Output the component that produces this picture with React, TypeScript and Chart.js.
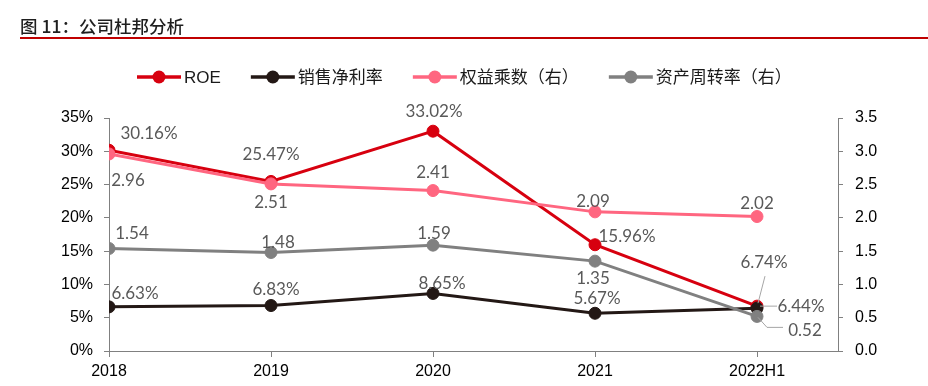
import React, { useEffect, useRef } from "react";
import { Chart, registerables } from "chart.js";

Chart.register(...registerables);

const categories = ["2018", "2019", "2020", "2021", "2022H1"];
const roe = [30.16, 25.47, 33.02, 15.96, 6.74];
const netMargin = [6.63, 6.83, 8.65, 5.67, 6.44];
const equityMultiplier = [2.96, 2.51, 2.41, 2.09, 2.02];
const assetTurnover = [1.54, 1.48, 1.59, 1.35, 0.52];
const seriesNames = ["ROE", "销售净利率", "权益乘数（右）", "资产周转率（右）"];
const titleText = "图 11：公司杜邦分析";

const COLORS = ["#d7000f", "#231815", "#ff6680", "#808080"];

// label placement (pixel offsets from the point), style only
const LABEL_OFFSETS: [number, number][][] = [
  [[40, -17], [0, -27], [1, -20], [32, -8], [7, -44]],
  [[26, -13], [5, -16], [9, -10], [2, -15], [44, -2]],
  [[19, 27], [0, 19], [0, -18], [-2, -10], [0, -13]],
  [[23, -15], [7, -10], [1, -12], [-2, 17], [48, 14]],
];
// leader lines (relative to point) for crowded labels: [datasetIndex, pointIndex, path]
const LEADERS: [number, number, [number, number][]][] = [
  [0, 4, [[8, -30], [1, -3]]],
  [1, 4, [[3, -2], [20, -2]]],
  [3, 4, [[1, 1], [10, 11], [26, 11]]],
];

const TICK_FONT = { family: "'Liberation Sans', Arial, sans-serif", size: 16 };

const toPoints = (arr: number[]) => arr.map((v, i) => ({ x: i, y: v }));

const titlePlugin = {
  id: "titlePlugin",
  afterDraw(chart: any) {
    const ctx = chart.ctx;
    ctx.save();
    ctx.fillStyle = "#1f1f1f";
    ctx.font = "500 17.5px 'Noto Sans CJK SC', sans-serif";
    ctx.textAlign = "left";
    ctx.textBaseline = "alphabetic";
    ctx.fillText(titleText, 20, 33);
    ctx.strokeStyle = "#c00000";
    ctx.lineWidth = 2;
    ctx.beginPath();
    ctx.moveTo(20, 38);
    ctx.lineTo(928, 38);
    ctx.stroke();
    ctx.restore();
  },
};

const legendPlugin = {
  id: "customLegend",
  afterDraw(chart: any) {
    const ctx = chart.ctx;
    ctx.save();
    ctx.font = "17px 'Liberation Sans', 'Noto Sans CJK SC', sans-serif";
    ctx.textBaseline = "middle";
    ctx.textAlign = "left";
    let x = 137;
    const y = 77;
    chart.data.datasets.forEach((ds: any, i: number) => {
      const color = COLORS[i];
      ctx.strokeStyle = color;
      ctx.lineWidth = 3.5;
      ctx.beginPath();
      ctx.moveTo(x, y);
      ctx.lineTo(x + 44, y);
      ctx.stroke();
      ctx.fillStyle = color;
      ctx.beginPath();
      ctx.arc(x + 22, y, 6.5, 0, Math.PI * 2);
      ctx.fill();
      ctx.fillStyle = "#1a1a1a";
      ctx.fillText(ds.label, x + 47, y + 1);
      const w = ctx.measureText(ds.label).width;
      x = x + 47 + w + 30;
    });
    ctx.restore();
  },
};

const dataLabelPlugin = {
  id: "dataLabels",
  afterDatasetsDraw(chart: any) {
    const ctx = chart.ctx;
    ctx.save();
    ctx.strokeStyle = "#a6a6a6";
    ctx.lineWidth = 1;
    LEADERS.forEach(([di, pi, path]) => {
      const el = chart.getDatasetMeta(di).data[pi];
      ctx.beginPath();
      path.forEach(([dx, dy], k) => {
        if (k === 0) ctx.moveTo(el.x + dx, el.y + dy);
        else ctx.lineTo(el.x + dx, el.y + dy);
      });
      ctx.stroke();
    });
    ctx.font = "17px Lato, 'Open Sans', sans-serif";
    ctx.fillStyle = "#595959";
    ctx.textAlign = "center";
    ctx.textBaseline = "middle";
    chart.data.datasets.forEach((ds: any, di: number) => {
      const meta = chart.getDatasetMeta(di);
      meta.data.forEach((el: any, pi: number) => {
        const v = ds.data[pi].y as number;
        const txt = di < 2 ? v.toFixed(2) + "%" : v.toFixed(2);
        const [dx, dy] = LABEL_OFFSETS[di][pi];
        ctx.fillText(txt, el.x + dx, el.y + dy);
      });
    });
    ctx.restore();
  },
};

export default function App() {
  const ref = useRef<HTMLCanvasElement | null>(null);
  useEffect(() => {
    if (!ref.current) return;
    const series = [roe, netMargin, equityMultiplier, assetTurnover];
    const axes = ["y", "y", "y1", "y1"];
    const orders = [4, 3, 2, 1];
    const chart = new Chart(ref.current, {
      type: "line",
      data: {
        datasets: series.map((s, i) => ({
          label: seriesNames[i],
          data: toPoints(s),
          yAxisID: axes[i],
          order: orders[i],
          borderColor: COLORS[i],
          backgroundColor: COLORS[i],
          pointBackgroundColor: COLORS[i],
          pointBorderColor: COLORS[i],
          borderWidth: 3,
          pointRadius: 6,
          pointBorderWidth: 1,
          tension: 0,
          fill: false,
        })),
      },
      options: {
        responsive: false,
        animation: false,
        events: [],
        layout: { padding: { top: 118, left: 0, right: 0, bottom: 0 } },
        plugins: {
          legend: { display: false },
          tooltip: { enabled: false },
          title: { display: false },
        },
        scales: {
          x: {
            type: "linear",
            min: 0,
            max: 4.5,
            position: "bottom",
            afterBuildTicks: (s: any) => {
              s.ticks = s.ticks.filter((t: any) => Number.isInteger(t.value));
            },
            afterFit: (s: any) => {
              s.height = 35;
            },
            ticks: {
              stepSize: 1,
              autoSkip: false,
              maxRotation: 0,
              padding: 5,
              color: "#000",
              font: TICK_FONT,
              callback: (v: any) => categories[v as number] ?? "",
            },
            grid: { drawOnChartArea: false, tickLength: 6, color: "#808080" },
            border: { color: "#808080" },
          },
          y: {
            type: "linear",
            position: "left",
            min: 0,
            max: 35,
            afterFit: (s: any) => {
              s.width = 109;
            },
            ticks: {
              stepSize: 5,
              padding: 11,
              color: "#000",
              font: TICK_FONT,
              callback: (v: any) => v + "%",
            },
            grid: { drawOnChartArea: false, tickLength: 5, color: "#808080" },
            border: { color: "#808080" },
          },
          y1: {
            type: "linear",
            position: "right",
            min: 0,
            max: 3.5,
            afterFit: (s: any) => {
              s.width = 90;
            },
            ticks: {
              stepSize: 0.5,
              padding: 12,
              color: "#000",
              font: TICK_FONT,
              callback: (v: any) => Number(v).toFixed(1),
            },
            grid: { drawOnChartArea: false, tickLength: 5, color: "#808080" },
            border: { color: "#808080" },
          },
        },
      },
      plugins: [titlePlugin, legendPlugin, dataLabelPlugin],
    });
    return () => chart.destroy();
  }, []);
  return (
    <div style={{ position: "absolute", left: 0, top: 0, width: 928, height: 386, background: "#fff" }}>
      <canvas ref={ref} width={928} height={386} style={{ display: "block", width: 928, height: 386 }} />
    </div>
  );
}
